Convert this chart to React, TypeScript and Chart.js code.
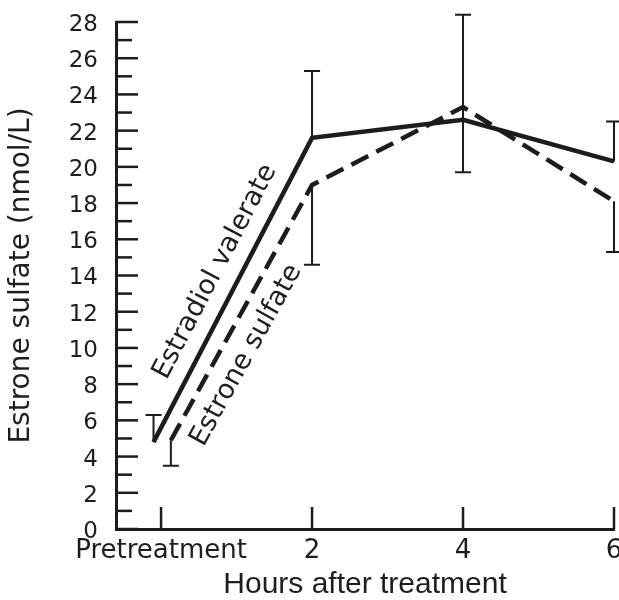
import React, { useEffect, useRef } from 'react';
import { Chart, registerables } from 'chart.js';

Chart.register(...registerables);

// ---- data ----
const xTickValues = [0, 2, 4, 6];
const xTickLabels = ['Pretreatment', '2', '4', '6'];
const yLabelTicks = [0, 2, 4, 6, 8, 10, 12, 14, 16, 18, 20, 22, 24, 26, 28];
const yMinorTicks = [1, 3, 5, 7, 9, 11, 13, 15, 17, 19, 21, 23, 25, 27];

const seriesNames = ['Estradiol valerate', 'Estrone sulfate'];

const estradiolHours = [-0.1, 2, 4, 6];
const estradiolMeans = [4.8, 21.6, 22.6, 20.3];
const estradiolErrorEnds = [6.3, 25.3, 28.4, 22.5];

const estroneHours = [0.13, 2, 4, 6];
const estroneMeans = [4.9, 19.0, 23.3, 18.1];
const estroneErrorEnds = [3.5, 14.6, 19.7, 15.3];

const INK = '#1c1c1c';
const TEXT = '#1e1e1e';
const TICK_FONT = 'DejaVu Sans';

const errorBarPlugin = {
  id: 'errorBars',
  afterDatasetsDraw(chart: any) {
    const { ctx } = chart;
    const ys = chart.scales.y;
    const ends = [estradiolErrorEnds, estroneErrorEnds];
    ctx.save();
    ctx.strokeStyle = INK;
    ctx.lineWidth = 2;
    ctx.lineCap = 'butt';
    chart.data.datasets.forEach((_ds: any, i: number) => {
      const meta = chart.getDatasetMeta(i);
      meta.data.forEach((pt: any, j: number) => {
        const yEnd = ys.getPixelForValue(ends[i][j]);
        ctx.beginPath();
        ctx.moveTo(pt.x, pt.y);
        ctx.lineTo(pt.x, yEnd);
        ctx.moveTo(pt.x - 8, yEnd);
        ctx.lineTo(pt.x + 8, yEnd);
        ctx.stroke();
      });
    });
    ctx.restore();
  },
};

const axisTicksPlugin = {
  id: 'axisTicks',
  afterDraw(chart: any) {
    const { ctx, chartArea } = chart;
    const xs = chart.scales.x;
    const ys = chart.scales.y;
    ctx.save();
    ctx.strokeStyle = INK;
    ctx.lineWidth = 2.5;
    ctx.lineCap = 'butt';
    yLabelTicks.forEach((v) => {
      const y = ys.getPixelForValue(v);
      ctx.beginPath();
      ctx.moveTo(chartArea.left, y);
      ctx.lineTo(chartArea.left + 22, y);
      ctx.stroke();
    });
    yMinorTicks.forEach((v) => {
      const y = ys.getPixelForValue(v);
      ctx.beginPath();
      ctx.moveTo(chartArea.left, y);
      ctx.lineTo(chartArea.left + 16, y);
      ctx.stroke();
    });
    xTickValues.forEach((v) => {
      const x = xs.getPixelForValue(v);
      ctx.beginPath();
      ctx.moveTo(x, chartArea.bottom);
      ctx.lineTo(x, chartArea.bottom - 22);
      ctx.stroke();
    });
    ctx.restore();
  },
};

const lineLabelPlugin = {
  id: 'lineLabels',
  afterDatasetsDraw(chart: any) {
    const { ctx } = chart;
    const placements = [
      { along: 8, normal: 24 },
      { along: -35, normal: -25 },
    ];
    ctx.save();
    ctx.fillStyle = TEXT;
    ctx.font = `27px "${TICK_FONT}"`;
    ctx.textAlign = 'center';
    ctx.textBaseline = 'middle';
    chart.data.datasets.forEach((_ds: any, i: number) => {
      const meta = chart.getDatasetMeta(i);
      const a = meta.data[0];
      const b = meta.data[1];
      const dx = b.x - a.x;
      const dy = b.y - a.y;
      const len = Math.hypot(dx, dy);
      const ux = dx / len;
      const uy = dy / len;
      const nx = uy;
      const ny = -ux;
      const p = placements[i];
      const cx = (a.x + b.x) / 2 + p.along * ux + p.normal * nx;
      const cy = (a.y + b.y) / 2 + p.along * uy + p.normal * ny;
      ctx.save();
      ctx.translate(cx, cy);
      ctx.rotate(Math.atan2(dy, dx));
      ctx.fillText(seriesNames[i], 0, 0);
      ctx.restore();
    });
    ctx.restore();
  },
};

export default function App() {
  const ref = useRef<HTMLCanvasElement | null>(null);

  useEffect(() => {
    if (!ref.current) return;
    const chart = new Chart(ref.current, {
      type: 'line',
      data: {
        datasets: [
          {
            label: seriesNames[0],
            data: estradiolHours.map((h, i) => ({ x: h, y: estradiolMeans[i] })),
            borderColor: INK,
            borderWidth: 4.5,
            pointRadius: 0,
            borderJoinStyle: 'miter',
            borderCapStyle: 'butt',
            fill: false,
            clip: false as any,
          },
          {
            label: seriesNames[1],
            data: estroneHours.map((h, i) => ({ x: h, y: estroneMeans[i] })),
            borderColor: INK,
            borderWidth: 4.5,
            borderDash: [19, 9],
            pointRadius: 0,
            borderJoinStyle: 'miter',
            borderCapStyle: 'butt',
            fill: false,
            clip: false as any,
          },
        ],
      },
      options: {
        responsive: false,
        animation: false,
        layout: { padding: { top: 22, right: 5, left: 0, bottom: 0 } },
        plugins: {
          legend: { display: false },
          tooltip: { enabled: false },
        },
        scales: {
          x: {
            type: 'linear',
            min: -0.597,
            max: 6,
            grid: { display: false, drawTicks: false },
            border: { display: true, color: INK, width: 3 },
            afterBuildTicks: (s: any) => {
              s.ticks = xTickValues.map((v) => ({ value: v }));
            },
            afterFit: (s: any) => {
              s.height = 71;
              s.paddingLeft = 0;
              s.paddingRight = 0;
            },
            ticks: {
              autoSkip: false,
              maxRotation: 0,
              minRotation: 0,
              padding: 7,
              color: TEXT,
              font: { family: TICK_FONT, size: 26 },
              callback: (v: any) => {
                const idx = xTickValues.indexOf(Number(v));
                return idx >= 0 ? xTickLabels[idx] : '';
              },
            },
            title: {
              display: true,
              text: 'Hours after treatment',
              color: TEXT,
              font: { family: 'Liberation Sans', size: 30, lineHeight: 1 },
              padding: { top: 0, bottom: 0 },
            },
          },
          y: {
            type: 'linear',
            min: 0,
            max: 28,
            grid: { display: false, drawTicks: false },
            border: { display: true, color: INK, width: 3 },
            afterBuildTicks: (s: any) => {
              s.ticks = yLabelTicks.map((v) => ({ value: v }));
            },
            afterFit: (s: any) => {
              s.width = 116;
              s.paddingTop = 0;
              s.paddingBottom = 0;
            },
            ticks: {
              autoSkip: false,
              padding: 18,
              labelOffset: 3,
              color: TEXT,
              font: { family: TICK_FONT, size: 23 },
            },
            title: {
              display: true,
              text: 'Estrone sulfate (nmol/L)',
              color: TEXT,
              font: { family: TICK_FONT, size: 28, lineHeight: 1.2 },
              padding: { top: 5, bottom: 0 },
            },
          },
        },
      },
      plugins: [errorBarPlugin, axisTicksPlugin, lineLabelPlugin],
    });
    return () => chart.destroy();
  }, []);

  return (
    <div style={{ position: 'absolute', left: 0, top: 0, width: 619, height: 600, background: '#fff' }}>
      <canvas ref={ref} width={619} height={600} style={{ display: 'block' }} />
    </div>
  );
}
